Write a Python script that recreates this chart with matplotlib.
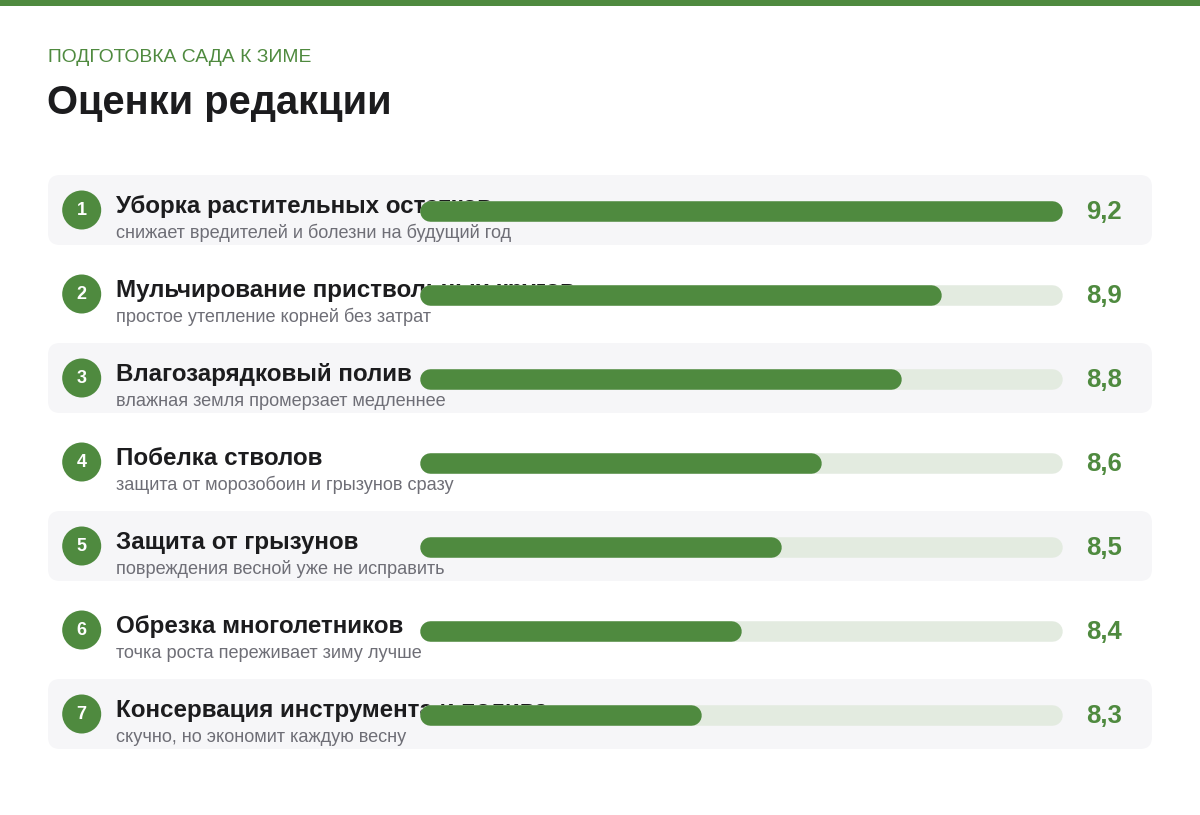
import matplotlib.pyplot as plt
from matplotlib.patches import FancyBboxPatch, Circle, Rectangle

plt.rcParams['font.family'] = ['Liberation Sans', 'DejaVu Sans']

# data
names = [
    "Уборка растительных остатков",
    "Мульчирование приствольных кругов",
    "Влагозарядковый полив",
    "Побелка стволов",
    "Защита от грызунов",
    "Обрезка многолетников",
    "Консервация инструмента и полива",
]
notes = [
    "снижает вредителей и болезни на будущий год",
    "простое утепление корней без затрат",
    "влажная земля промерзает медленнее",
    "защита от морозобоин и грызунов сразу",
    "повреждения весной уже не исправить",
    "точка роста переживает зиму лучше",
    "скучно, но экономит каждую весну",
]
scores = [9.2, 8.9, 8.8, 8.6, 8.5, 8.4, 8.3]
score_labels = ["9,2", "8,9", "8,8", "8,6", "8,5", "8,4", "8,3"]
kicker = "ПОДГОТОВКА САДА К ЗИМЕ"
title = "Оценки редакции"

GREEN = "#4f8a3f"
TRACK = "#e3ebe0"
ROWBG = "#f6f6f8"
DARK = "#1c1c1e"
GREY = "#6e6e76"

W, H = 1200, 815
fig = plt.figure(figsize=(W / 100, H / 100), dpi=100)
base = fig.add_axes([0, 0, 1, 1])
base.set_xlim(0, W)
base.set_ylim(H, 0)
base.axis("off")

# top stripe
base.add_patch(Rectangle((0, 0), W, 6, color=GREEN, lw=0))

base.text(48, 62, kicker, fontsize=13.85, color=GREEN, va="baseline")
base.text(47, 114, title, fontsize=28.75, fontweight="bold", color=DARK, va="baseline")

row0, step = 210, 84
for i, (name, note, lab) in enumerate(zip(names, notes, score_labels)):
    cy = row0 + i * step
    if i % 2 == 0:
        base.add_patch(FancyBboxPatch((48, cy - 35), 1104, 70,
                                      boxstyle="round,pad=0,rounding_size=12",
                                      fc=ROWBG, ec="none"))
    base.add_patch(Circle((81.7, cy), 19.5, color=GREEN, lw=0))
    base.text(81.7, cy + 0.5, str(i + 1), fontsize=13, fontweight="bold",
              color="white", ha="center", va="center")
    base.text(116, cy + 3, name, fontsize=17.4, fontweight="bold",
              color=DARK, va="baseline")
    base.text(116, cy + 28, note, fontsize=13.1, color=GREY, va="baseline")
    base.text(1086, cy + 9, lab, fontsize=18.5, fontweight="bold",
              color=GREEN, va="baseline")

# bars axis: 420..1062 px, score domain 7.6..9.2
bx0, bx1 = 420, 1062
bars = fig.add_axes([bx0 / W, 0, (bx1 - bx0) / W, 1])
lo, hi = 7.6, 9.2
bars.set_xlim(lo, hi)
bars.set_ylim(H, 0)
bars.axis("off")
bars.patch.set_alpha(0)

bar_h = 20.5
r = (bar_h / 2) * (hi - lo) / (bx1 - bx0)
lw = bar_h * 72 / 100
for i, v in enumerate(scores):
    cy = row0 + i * step + 1.2
    bars.plot([lo + r, hi - r], [cy, cy], color=TRACK, lw=lw,
              solid_capstyle="round", clip_on=False)
    bars.plot([lo + r, v - r], [cy, cy], color=GREEN, lw=lw,
              solid_capstyle="round", clip_on=False)

fig.savefig("out.png", dpi=100, facecolor="white")
